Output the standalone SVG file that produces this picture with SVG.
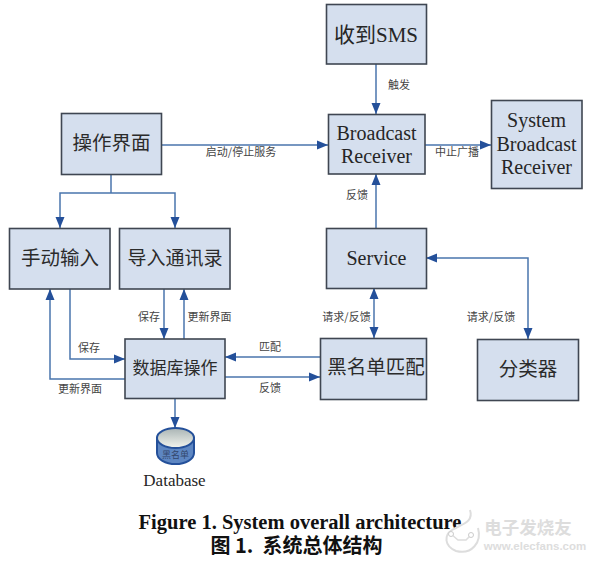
<svg xmlns="http://www.w3.org/2000/svg" width="591" height="562" viewBox="0 0 591 562">
<style>
.b{fill:#d5dfee;stroke:#3f4652;stroke-width:1.6}
.l{fill:none;stroke:#4a75ad;stroke-width:1.5}
.t{font-family:"Liberation Serif","Noto Sans CJK SC",serif;font-size:20px;fill:#262626;text-anchor:middle}
.c{font-family:"Noto Sans CJK SC",sans-serif;font-size:19.500px;fill:#2b2b2b;text-anchor:middle}
.s{font-family:"Noto Sans CJK SC",sans-serif;font-size:11px;fill:#444;text-anchor:middle}
.cap{font-family:"Liberation Serif",serif;font-weight:bold;font-size:20.500px;fill:#111;text-anchor:middle}
</style>
<defs>
<marker id="a" markerUnits="userSpaceOnUse" markerWidth="12" markerHeight="12" refX="11" refY="6" orient="auto-start-reverse"><path d="M0 1.500L11 6L0 10.500Z" fill="#24509a"/></marker>
<linearGradient id="g" x1="0" y1="0" x2="0" y2="1"><stop offset="0" stop-color="#a9b4b4"/><stop offset="1" stop-color="#f2f4ee"/></linearGradient>
</defs>
<rect width="591" height="562" fill="#fff"/>
<g id="connectors">
<path class="l" marker-end="url(#a)" d="M376 64V114"/>
<path class="l" marker-end="url(#a)" d="M161 145H328"/>
<path class="l" marker-end="url(#a)" d="M425 145H491"/>
<path class="l" marker-end="url(#a)" d="M376 228V174"/>
<path class="l" marker-start="url(#a)" marker-end="url(#a)" d="M426 258H528V339"/>
<path class="l" marker-start="url(#a)" marker-end="url(#a)" d="M374 288V338"/>
<path class="l" d="M111 175V193"/>
<path class="l" marker-end="url(#a)" d="M111 193H60V228"/>
<path class="l" marker-end="url(#a)" d="M111 193H175V228"/>
<path class="l" marker-end="url(#a)" d="M70 289V359H125"/>
<path class="l" marker-end="url(#a)" d="M125 379H50V289"/>
<path class="l" marker-end="url(#a)" d="M164 289V339"/>
<path class="l" marker-end="url(#a)" d="M184 339V289"/>
<path class="l" marker-end="url(#a)" d="M320 357H225"/>
<path class="l" marker-end="url(#a)" d="M225 377H320"/>
<path class="l" marker-end="url(#a)" d="M175 398V428"/>
</g>
<g id="n-sms"><rect class="b" x="326.500" y="4.500" width="100" height="59.500"/><text class="t" x="376" y="42" style="font-size:21px">收到SMS</text></g>
<g id="n-receiver"><rect class="b" x="328.500" y="114.500" width="96.500" height="59.500"/><text class="t" x="376.500" y="140">Broadcast</text><text class="t" x="376.500" y="163">Receiver</text></g>
<g id="n-system"><rect class="b" x="491.500" y="100.500" width="90.500" height="88"/><text class="t" x="536.500" y="127">System</text><text class="t" x="536.500" y="151">Broadcast</text><text class="t" x="536.500" y="174">Receiver</text></g>
<g id="n-service"><rect class="b" x="326.500" y="228.500" width="100" height="60"/><text class="t" x="376.500" y="265">Service</text></g>
<g id="n-ui"><rect class="b" x="61.500" y="113.500" width="100" height="61"/><text class="c" x="111.500" y="150">操作界面</text></g>
<g id="n-manual"><rect class="b" x="9.500" y="228.500" width="100.500" height="60.500"/><text class="c" x="60" y="265">手动输入</text></g>
<g id="n-import"><rect class="b" x="119.500" y="228.500" width="110.500" height="60.500"/><text class="c" x="175" y="265" style="font-size:19px">导入通讯录</text></g>
<g id="n-db"><rect class="b" x="125" y="339" width="100" height="59.500"/><text class="c" x="175" y="374" style="font-size:17px">数据库操作</text></g>
<g id="n-match"><rect class="b" x="320.500" y="338.500" width="106" height="61"/><text class="c" x="376" y="374" style="font-size:19.500px">黑名单匹配</text></g>
<g id="n-classifier"><rect class="b" x="477.500" y="339.500" width="101" height="61"/><text class="c" x="528" y="376">分类器</text></g>
<g id="n-database">
<path d="M157 438V453A18.500 11 0 0 0 194 453V438Z" fill="#5d86c2" stroke="#24509a" stroke-width="2"/>
<ellipse cx="175.500" cy="438" rx="18.500" ry="10" fill="url(#g)" stroke="#24509a" stroke-width="2"/>
<text class="s" x="175.500" y="458" style="font-size:9px;fill:#33466b">黑名单</text>
<text class="t" x="174.500" y="486" style="font-size:17px">Database</text>
</g>
<g id="labels">
<text class="s" x="399" y="89">触发</text>
<text class="s" x="241" y="156">启动/停止服务</text>
<text class="s" x="457" y="156">中止广播</text>
<text class="s" x="357" y="199">反馈</text>
<text class="s" x="149" y="321">保存</text>
<text class="s" x="209.500" y="321">更新界面</text>
<text class="s" x="89" y="352">保存</text>
<text class="s" x="80" y="393">更新界面</text>
<text class="s" x="270" y="351">匹配</text>
<text class="s" x="270" y="392">反馈</text>
<text class="s" x="346.500" y="321">请求/反馈</text>
<text class="s" x="491" y="321">请求/反馈</text>
</g>
<g id="caption">
<text class="cap" x="300" y="528.500">Figure 1. System overall architecture</text>
<text class="cap" x="296.500" y="553" xml:space="preserve" style="font-family:'Noto Sans CJK SC',sans-serif;font-size:20px">图 1.  系统总体结构</text>
</g>
<g id="watermark">
<path d="M470 510C474 522 462 524 452 530C444 535 444 546 456 551C472 555 482 542 478 528" fill="#fff" stroke="#ddd" stroke-width="2"/>
<path d="M451 534L458 540H466L471 535" fill="none" stroke="#ddd" stroke-width="1.500"/>
<circle cx="451" cy="534" r="2.500" fill="#fff" stroke="#ccc"/>
<circle cx="471" cy="535" r="2.500" fill="#fff" stroke="#ccc"/>
<text x="528" y="534" font-family="Noto Sans CJK SC,sans-serif" font-size="17.500" font-weight="bold" fill="#ddd" text-anchor="middle">电子发烧友</text>
<text x="535" y="550" font-family="Liberation Sans,sans-serif" font-size="11.500" font-weight="bold" fill="#ddd" text-anchor="middle">www.elecfans.com</text>
</g>
</svg>
